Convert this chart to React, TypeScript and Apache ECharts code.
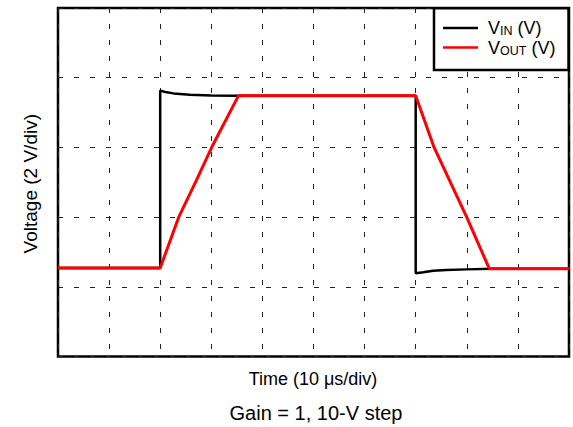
import React, { useEffect, useRef } from "react";
import * as echarts from "echarts";

// Time in µs (10 µs per division), voltage in V (2 V per division)
const vinTime = [0, 20, 20, 21, 22.6, 25.8, 30, 35, 70, 70, 71.5, 73.4, 76, 80, 85, 100];
const vinVolts = [2.54, 2.54, 7.63, 7.59, 7.55, 7.51, 7.49, 7.48, 7.48, 2.39, 2.42, 2.46, 2.48, 2.5, 2.52, 2.52];
const voutTime = [0, 20, 23.6, 27.1, 30.1, 35.3, 70.0, 73.6, 80.0, 84.4, 100];
const voutVolts = [2.54, 2.54, 3.99, 5.06, 6.01, 7.48, 7.48, 6.0, 3.99, 2.52, 2.52];

const seriesNames = ["VIN (V)", "VOUT (V)"];
const subscripts = ["IN", "OUT"];
const xTitle = "Time (10 μs/div)";
const yTitle = "Voltage (2 V/div)";
const caption = "Gain = 1, 10-V step";

const FONT = "'Liberation Sans', Arial, Helvetica, sans-serif";

export default function App() {
  const ref = useRef<HTMLDivElement>(null);
  useEffect(() => {
    if (!ref.current) return;
    const chart = echarts.init(ref.current, undefined, { renderer: "svg" });
    const gridDash = { type: [5, 11], color: "#222", width: 1 };
    chart.setOption({
      animation: false,
      backgroundColor: "#fff",
      grid: {
        left: 58,
        top: 8,
        right: 4,
        bottom: 70.5,
        show: true,
        borderColor: "#000",
        borderWidth: 2.5,
        backgroundColor: "transparent",
      },
      xAxis: {
        type: "value",
        min: 0,
        max: 100,
        interval: 10,
        axisLine: { show: false },
        axisTick: { show: false },
        axisLabel: { show: false },
        splitLine: { show: true, lineStyle: gridDash },
      },
      yAxis: {
        type: "value",
        min: 0,
        max: 10,
        interval: 2,
        axisLine: { show: false },
        axisTick: { show: false },
        axisLabel: { show: false },
        splitLine: { show: true, lineStyle: gridDash },
      },
      legend: {
        orient: "vertical",
        left: 443,
        top: 19,
        padding: 0,
        icon: "rect",
        itemWidth: 35,
        itemHeight: 2.6,
        itemGap: 1,
        z: 6,
        data: seriesNames,
        formatter: (name: string) => {
          const i = seriesNames.indexOf(name);
          return `{v|V}{s|${subscripts[i]}}{w| (V)}`;
        },
        textStyle: {
          fontFamily: FONT,
          color: "#000",
          rich: {
            v: { fontSize: 18, fontFamily: FONT, color: "#000", lineHeight: 19, padding: [0, 0, 0, 5] },
            s: { fontSize: 12.5, fontFamily: FONT, color: "#000", lineHeight: 12, verticalAlign: "bottom" },
            w: { fontSize: 18, fontFamily: FONT, color: "#000", lineHeight: 19 },
          },
        },
      },
      graphic: [
        {
          type: "rect",
          z: 5,
          shape: { x: 434, y: 8.3, width: 134.5, height: 61.7 },
          style: { fill: "#fff", stroke: "#000", lineWidth: 2.5 },
        },
        {
          type: "text",
          x: 30,
          y: 183.7,
          rotation: Math.PI / 2,
          style: {
            text: yTitle,
            fontFamily: FONT,
            fontSize: 19,
            fill: "#000",
            align: "center",
            verticalAlign: "middle",
          },
        },
        {
          type: "text",
          x: 313,
          y: 379,
          style: {
            text: xTitle,
            fontFamily: FONT,
            fontSize: 18,
            fill: "#000",
            align: "center",
            verticalAlign: "middle",
          },
        },
        {
          type: "text",
          x: 316,
          y: 413,
          style: {
            text: caption,
            fontFamily: FONT,
            fontSize: 20,
            fill: "#000",
            align: "center",
            verticalAlign: "middle",
          },
        },
      ],
      series: [
        {
          name: seriesNames[0],
          type: "line",
          symbol: "none",
          data: vinTime.map((t, i) => [t, vinVolts[i]]),
          lineStyle: { color: "#000", width: 2.5 },
          itemStyle: { color: "#000" },
          z: 2,
        },
        {
          name: seriesNames[1],
          type: "line",
          symbol: "none",
          data: voutTime.map((t, i) => [t, voutVolts[i]]),
          lineStyle: { color: "#ff0000", width: 3 },
          itemStyle: { color: "#ff0000" },
          z: 3,
        },
      ],
    });
    return () => chart.dispose();
  }, []);
  return (
    <div
      ref={ref}
      style={{ position: "absolute", left: 0, top: 0, width: 573, height: 427 }}
    />
  );
}
